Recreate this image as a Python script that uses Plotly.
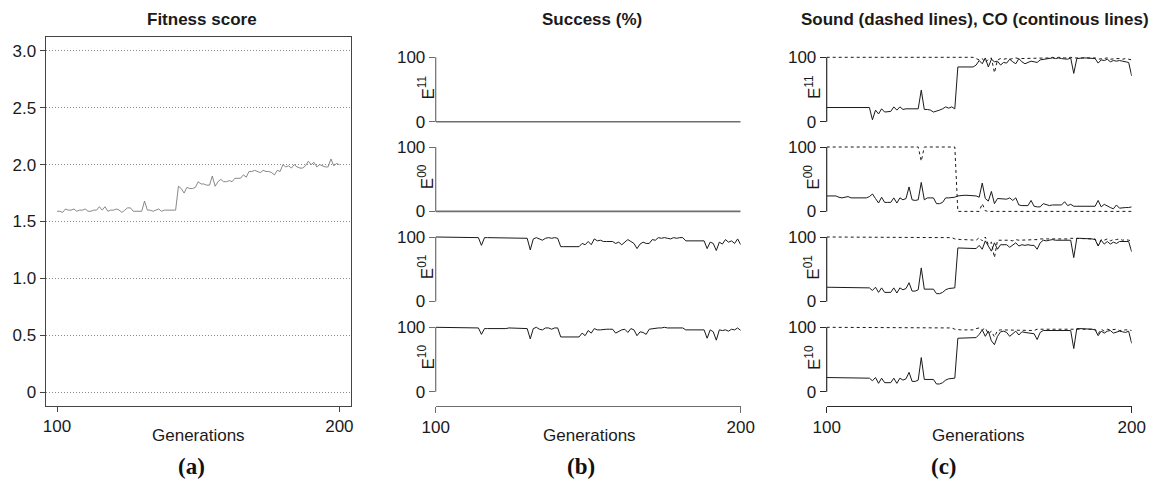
import plotly.graph_objects as go

W, H = 1155, 488

generations = list(range(100, 201))

fitness = [1.59, 1.59, 1.58, 1.61, 1.60, 1.60, 1.61, 1.59, 1.60, 1.60,
           1.61, 1.59, 1.59, 1.60, 1.60, 1.63, 1.60, 1.63, 1.59, 1.60,
           1.60, 1.61, 1.60, 1.58, 1.60, 1.62, 1.62, 1.59, 1.59, 1.59,
           1.59, 1.68, 1.60, 1.60, 1.59, 1.60, 1.61, 1.59, 1.60, 1.60,
           1.60, 1.60, 1.60, 1.81, 1.79, 1.75, 1.80, 1.79, 1.79, 1.80,
           1.85, 1.83, 1.83, 1.82, 1.82, 1.90, 1.81, 1.85, 1.87, 1.85,
           1.85, 1.86, 1.85, 1.88, 1.88, 1.88, 1.91, 1.89, 1.94, 1.94,
           1.95, 1.94, 1.93, 1.95, 1.94, 1.94, 1.93, 1.91, 1.95, 1.94,
           2.00, 1.98, 1.99, 1.97, 2.00, 1.98, 1.97, 1.97, 1.99, 2.03,
           2.00, 2.02, 1.98, 2.00, 1.99, 1.98, 1.98, 2.05, 1.99, 2.01,
           2.00]

success_e11 = [0, 0, 0, 0, 0, 0, 0, 0, 0, 0,
               0, 0, 0, 0, 0, 0, 0, 0, 0, 0,
               0, 0, 0, 0, 0, 0, 0, 0, 0, 0,
               0, 0, 0, 0, 0, 0, 0, 0, 0, 0,
               0, 0, 0, 0, 0, 0, 0, 0, 0, 0,
               0, 0, 0, 0, 0, 0, 0, 0, 0, 0,
               0, 0, 0, 0, 0, 0, 0, 0, 0, 0,
               0, 0, 0, 0, 0, 0, 0, 0, 0, 0,
               0, 0, 0, 0, 0, 0, 0, 0, 0, 0,
               0, 0, 0, 0, 0, 0, 0, 0, 0, 0,
               0]

success_e00 = [0, 0, 0, 0, 0, 0, 0, 0, 0, 0,
               0, 0, 0, 0, 0, 0, 0, 0, 0, 0,
               0, 0, 0, 0, 0, 0, 0, 0, 0, 0,
               0, 0, 0, 0, 0, 0, 0, 0, 0, 0,
               0, 0, 0, 0, 0, 0, 0, 0, 0, 0,
               0, 0, 0, 0, 0, 0, 0, 0, 0, 0,
               0, 0, 0, 0, 0, 0, 0, 0, 0, 0,
               0, 0, 0, 0, 0, 0, 0, 0, 0, 0,
               0, 0, 0, 0, 0, 0, 0, 0, 0, 0,
               0, 0, 0, 0, 0, 0, 0, 0, 0, 0,
               0]

success_e01 = [100, 100, 100, 100, 99, 99, 99, 99, 99, 99,
               99, 99, 99, 99, 99, 87, 99, 99, 99, 99,
               99, 99, 99, 99, 99, 99, 99, 99, 99, 99,
               98, 80, 97, 99, 97, 95, 98, 99, 98, 99,
               98, 85, 85, 85, 85, 85, 85, 85, 90, 88,
               93, 88, 97, 94, 95, 93, 93, 93, 93, 90,
               92, 88, 92, 96, 93, 90, 82, 89, 92, 90,
               90, 96, 95, 99, 98, 99, 98, 97, 99, 98,
               99, 99, 94, 94, 94, 94, 94, 94, 94, 82,
               92, 90, 79, 92, 89, 96, 92, 94, 90, 97,
               88]

success_e10 = [100, 100, 100, 100, 100, 100, 99, 99, 99, 99,
               99, 99, 99, 99, 99, 89, 98, 98, 98, 98,
               98, 98, 97, 98, 99, 99, 98, 99, 99, 98,
               98, 82, 98, 100, 97, 96, 99, 99, 97, 99,
               99, 85, 85, 85, 85, 85, 85, 85, 91, 87,
               95, 91, 98, 96, 96, 97, 97, 97, 97, 91,
               94, 96, 97, 92, 98, 96, 87, 93, 92, 89,
               97, 98, 99, 99, 99, 100, 99, 99, 99, 99,
               99, 99, 96, 96, 96, 96, 96, 96, 96, 83,
               96, 93, 80, 96, 95, 96, 94, 97, 96, 99,
               95]

co_e11 = [22, 22, 22, 22, 22, 22, 22, 22, 22, 22,
          22, 22, 22, 22, 22, 3, 18, 12, 20, 15,
          16, 16, 23, 18, 23, 19, 20, 20, 20, 20,
          20, 49, 19, 19, 18, 15, 16, 18, 20, 23,
          21, 23, 20, 85, 85, 85, 85, 85, 85, 88,
          95, 90, 99, 85, 97, 93, 94, 88, 92, 91,
          97, 93, 90, 98, 93, 90, 92, 94, 93, 92,
          96, 97, 97, 98, 99, 98, 99, 98, 98, 97,
          99, 75, 98, 99, 99, 99, 99, 99, 98, 91,
          96, 95, 97, 93, 95, 94, 95, 94, 93, 92,
          71]

sound_e11 = [100, 100, 100, 100, 100, 100, 100, 100, 100, 100,
             100, 100, 100, 100, 100, 100, 100, 100, 100, 100,
             100, 100, 100, 100, 100, 100, 100, 100, 100, 100,
             100, 100, 100, 100, 100, 100, 100, 100, 100, 100,
             100, 100, 100, 100, 100, 100, 100, 100, 100, 98,
             96, 98, 92, 97, 99, 76, 96, 98, 97, 98,
             97, 98, 99, 98, 98, 99, 98, 99, 99, 98,
             99, 99, 99, 99, 100, 99, 100, 99, 99, 99,
             100, 99, 99, 99, 99, 99, 99, 99, 99, 97,
             98, 98, 99, 97, 98, 98, 98, 97, 98, 97,
             96]

co_e00 = [24, 24, 24, 24, 22, 21, 22, 23, 21, 21,
          22, 22, 21, 21, 23, 27, 20, 13, 22, 14,
          14, 14, 21, 13, 21, 18, 20, 38, 18, 17,
          18, 45, 18, 21, 21, 21, 12, 12, 14, 21,
          21, 21, 22, 24, 25, 25, 25, 25, 25, 24,
          22, 44, 20, 16, 31, 12, 20, 20, 19, 19,
          21, 17, 21, 10, 9, 9, 9, 17, 8, 7,
          7, 12, 10, 9, 10, 10, 10, 10, 15, 9,
          11, 8, 8, 8, 8, 8, 8, 8, 8, 17,
          7, 11, 8, 6, 4, 10, 5, 6, 6, 6,
          7]

sound_e00 = [100, 100, 100, 100, 100, 100, 100, 100, 100, 100,
             100, 100, 100, 100, 100, 100, 100, 100, 100, 100,
             100, 100, 100, 100, 100, 100, 100, 100, 100, 100,
             100, 78, 100, 100, 100, 100, 100, 100, 100, 100,
             100, 100, 100, 0, 0, 0, 0, 0, 0, 0,
             0, 12, 1, 0, 0, 0, 0, 0, 0, 0,
             0, 0, 0, 0, 0, 0, 0, 0, 0, 0,
             0, 0, 0, 0, 0, 0, 0, 0, 0, 0,
             0, 0, 0, 0, 0, 0, 0, 0, 0, 0,
             0, 0, 0, 0, 0, 0, 0, 0, 0, 0,
             0]

co_e01 = [22, 22, 22, 22, 22, 22, 22, 22, 22, 22,
          22, 22, 22, 22, 21, 17, 22, 14, 21, 14,
          14, 14, 21, 13, 21, 18, 20, 29, 16, 16,
          18, 52, 19, 19, 19, 19, 12, 12, 14, 18,
          20, 21, 21, 83, 83, 83, 83, 83, 83, 82,
          87, 81, 94, 86, 78, 91, 81, 88, 88, 88,
          84, 88, 91, 86, 88, 87, 88, 87, 87, 81,
          91, 95, 94, 95, 96, 95, 95, 95, 95, 95,
          95, 68, 98, 98, 98, 98, 98, 97, 96, 86,
          95, 89, 93, 89, 92, 90, 93, 93, 94, 93,
          77]

sound_e01 = [100, 100, 100, 100, 100, 100, 100, 100, 100, 100,
             100, 100, 100, 100, 100, 100, 100, 100, 100, 100,
             100, 100, 100, 100, 100, 100, 100, 100, 100, 100,
             100, 100, 100, 100, 100, 100, 100, 100, 100, 100,
             100, 99, 97, 96, 96, 96, 96, 96, 96, 95,
             99, 94, 100, 88, 92, 68, 95, 95, 96, 95,
             95, 94, 96, 95, 95, 95, 96, 95, 95, 96,
             97, 97, 97, 97, 97, 97, 96, 97, 97, 97,
             98, 98, 98, 98, 98, 98, 98, 97, 97, 87,
             96, 95, 97, 94, 96, 96, 97, 95, 96, 95,
             94]

co_e10 = [22, 22, 22, 22, 22, 22, 22, 22, 22, 22,
          22, 22, 22, 22, 21, 17, 22, 13, 21, 14,
          14, 14, 21, 13, 21, 18, 20, 30, 16, 16,
          18, 53, 19, 19, 19, 19, 12, 12, 14, 18,
          20, 21, 21, 83, 83, 83, 83, 83, 83, 84,
          89, 96, 86, 94, 79, 73, 86, 93, 94, 92,
          86, 90, 94, 88, 93, 92, 91, 90, 90, 81,
          92, 95, 95, 95, 95, 95, 95, 95, 95, 95,
          95, 67, 98, 98, 98, 98, 98, 97, 96, 87,
          94, 91, 94, 95, 91, 92, 94, 93, 92, 94,
          75]

sound_e10 = [100, 100, 100, 100, 100, 100, 100, 100, 100, 100,
             100, 100, 100, 100, 100, 100, 100, 100, 100, 100,
             100, 100, 100, 100, 100, 100, 100, 100, 100, 100,
             100, 100, 100, 100, 100, 100, 100, 100, 100, 100,
             100, 99, 97, 96, 96, 96, 96, 96, 96, 98,
             99, 96, 99, 90, 94, 85, 95, 96, 96, 96,
             96, 95, 96, 96, 96, 96, 96, 96, 95, 97,
             97, 97, 97, 97, 97, 97, 97, 97, 97, 97,
             97, 98, 98, 98, 98, 98, 98, 97, 97, 90,
             97, 94, 97, 96, 96, 97, 95, 96, 96, 96,
             95]

row_labels = ["11", "00", "01", "10"]
success_rows = [success_e11, success_e00, success_e01, success_e10]
co_rows = [co_e11, co_e00, co_e01, co_e10]
sound_rows = [sound_e11, sound_e00, sound_e01, sound_e10]
success_colors = ["#6e6e6e", "#6e6e6e", "#1a1a1a", "#1a1a1a"]
success_widths = [1.6, 1.6, 1, 1]

a_ticks = [0, 0.5, 1.0, 1.5, 2.0, 2.5, 3.0]
a_ticktext = ["0", "0.5", "1.0", "1.5", "2.0", "2.5", "3.0"]
row_ticks = [0, 100]
row_ticktext = ["0", "100"]
x_ticks = [100, 200]

FONT = "Liberation Sans, Arial, sans-serif"
FS = 17


def px(xp):
    return xp / W


def py(yp):
    return 1 - yp / H


fig = go.Figure()
layout = dict(
    template="none",
    width=W, height=H, autosize=False,
    margin=dict(l=0, r=0, t=0, b=0, pad=0),
    paper_bgcolor="white", plot_bgcolor="white",
    showlegend=False,
    font=dict(family=FONT, size=FS, color="#1a1a1a"),
)

# ---------------- panel (a) ----------------
fig.add_trace(go.Scatter(x=generations, y=fitness, mode="lines",
                         line=dict(color="#7a7a7a", width=0.9),
                         xaxis="x", yaxis="y", hoverinfo="skip"))
layout["xaxis"] = dict(domain=[px(45.7), px(350.7)], range=[96, 204], anchor="y",
                       automargin=False,
                       showgrid=False, zeroline=False, showline=True, mirror=True,
                       linecolor="#444", linewidth=1.3,
                       ticks="outside", ticklen=5, tickcolor="#444",
                       tickvals=x_ticks, ticktext=[str(v) for v in x_ticks],
                       tickfont=dict(size=FS, family=FONT, color="#1a1a1a"))
layout["yaxis"] = dict(domain=[py(405.7), py(37.3)], range=[-0.12, 3.12], anchor="x",
                       automargin=False,
                       showgrid=True, gridcolor="#8a8a8a", griddash="1px,2px", gridwidth=1,
                       zeroline=False, showline=True, mirror=True,
                       linecolor="#444", linewidth=1.3,
                       ticks="outside", ticklen=5, tickcolor="#444",
                       tickvals=a_ticks, ticktext=a_ticktext,
                       tickfont=dict(size=FS, family=FONT, color="#1a1a1a"))

# ---------------- panels (b) and (c) ----------------
row_tops = [57.3, 147.0, 237.0, 327.3]
row_h = 64.4
pad = 5 * row_h / 100.0

panels = [
    dict(xname="xaxis2", xref="x2", left=435.7, right=740.7, ynum0=2, axcol="#6e6e6e", lab_x=426.0),
    dict(xname="xaxis3", xref="x3", left=826.7, right=1131.7, ynum0=6, axcol="#2a2a2a", lab_x=812.5),
]

shapes = []
annotations = []

for pi, p in enumerate(panels):
    layout[p["xname"]] = dict(domain=[px(p["left"]), px(p["right"])], range=[100, 200],
                              anchor="free", position=py(405.7), automargin=False,
                              showgrid=False, zeroline=False, showline=True,
                              linecolor=p["axcol"], linewidth=1.2,
                              ticks="outside", ticklen=6, tickcolor=p["axcol"],
                              tickvals=x_ticks, ticktext=[str(v) for v in x_ticks],
                              tickfont=dict(size=FS, family=FONT, color="#1a1a1a"))
    for r in range(4):
        yn = p["ynum0"] + r
        yname = "yaxis%d" % yn
        yref = "y%d" % yn
        top = row_tops[r]
        layout[yname] = dict(domain=[py(top + row_h + pad), py(top - pad)], range=[-5, 105],
                             anchor=p["xref"], automargin=False,
                             showgrid=False, zeroline=False, showline=False,
                             ticks="outside", ticklen=6, tickcolor=p["axcol"], tickwidth=1.2,
                             tickvals=row_ticks, ticktext=row_ticktext,
                             tickfont=dict(size=FS, family=FONT, color="#1a1a1a"))
        shapes.append(dict(type="line", xref="paper", yref=yref,
                           x0=px(p["left"]), x1=px(p["left"]), y0=0, y1=100,
                           line=dict(color=p["axcol"], width=1.2)))
        annotations.append(dict(text="E<sup>%s</sup>" % row_labels[r], textangle=-90,
                                xref="paper", yref="paper", x=px(p["lab_x"]),
                                y=py(top + row_h / 2 - 2), showarrow=False,
                                xanchor="center", yanchor="middle",
                                font=dict(size=FS, family=FONT, color="#1a1a1a")))
        if pi == 0:
            fig.add_trace(go.Scatter(x=generations, y=success_rows[r], mode="lines",
                                     line=dict(color=success_colors[r], width=success_widths[r]),
                                     xaxis=p["xref"], yaxis=yref, hoverinfo="skip"))
        else:
            fig.add_trace(go.Scatter(x=generations, y=sound_rows[r], mode="lines",
                                     line=dict(color="#1a1a1a", width=1, dash="3px,3px"),
                                     xaxis=p["xref"], yaxis=yref, hoverinfo="skip"))
            fig.add_trace(go.Scatter(x=generations, y=co_rows[r], mode="lines",
                                     line=dict(color="#1a1a1a", width=1),
                                     xaxis=p["xref"], yaxis=yref, hoverinfo="skip"))

# ---------------- titles and labels ----------------
titles = [("<b>Fitness score</b>", 201.7), ("<b>Success (%)</b>", 591.5),
          ("<b>Sound (dashed lines), CO (continous lines)</b>", 975.0)]
for t, xc in titles:
    annotations.append(dict(text=t, xref="paper", yref="paper", x=px(xc), y=py(19.5),
                            showarrow=False, xanchor="center", yanchor="middle",
                            font=dict(size=FS, family=FONT, color="#1a1a1a")))

for xc in [198.2, 589.0, 978.3]:
    annotations.append(dict(text="Generations", xref="paper", yref="paper", x=px(xc), y=py(435),
                            showarrow=False, xanchor="center", yanchor="middle",
                            font=dict(size=FS, family=FONT, color="#1a1a1a")))

for t, xc in [("(a)", 191.0), ("(b)", 580.7), ("(c)", 943.7)]:
    annotations.append(dict(text="<b>%s</b>" % t, xref="paper", yref="paper", x=px(xc), y=py(466),
                            showarrow=False, xanchor="center", yanchor="middle",
                            font=dict(size=23, family="Liberation Serif, Times New Roman, serif",
                                      color="#111")))

layout["shapes"] = shapes
layout["annotations"] = annotations
fig.update_layout(**layout)

fig.write_html("out.html", config={"displayModeBar": False},
               post_script="document.body.style.margin='0';document.body.style.overflow='hidden';")
